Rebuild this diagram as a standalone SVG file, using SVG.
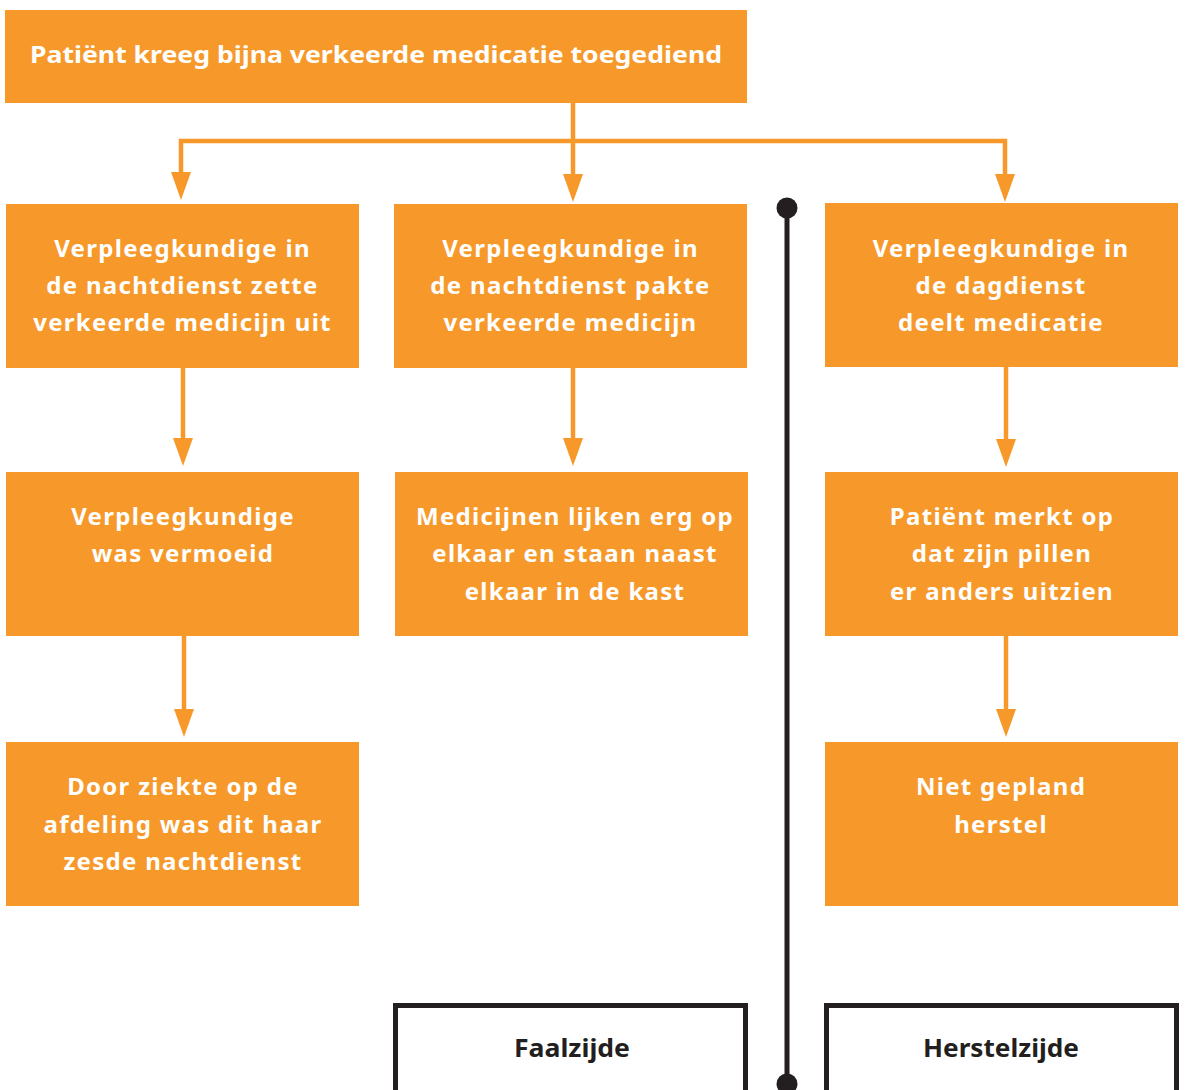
<svg xmlns="http://www.w3.org/2000/svg" width="1186" height="1090" viewBox="0 0 1186 1090">
<defs>
<style>
.box{fill:#F7992A}
.t{font-family:"Noto Sans","Open Sans",sans-serif;font-weight:bold;font-size:24px;fill:#FFFFFF;text-anchor:middle;letter-spacing:1.3px}
.tt{font-family:"Noto Sans","Open Sans",sans-serif;font-weight:bold;font-size:24px;fill:#FFFFFF;text-anchor:middle}
.c{fill:none;stroke:#F7992A;stroke-width:4.5}
.ah{fill:#F7992A}
.side{fill:#FFFFFF;stroke:#231F20;stroke-width:5}
.st{font-family:"Noto Sans","Open Sans",sans-serif;font-weight:bold;font-size:25px;fill:#231F20;text-anchor:middle}
</style>
</defs>
<rect width="1186" height="1090" fill="#FFFFFF"/>
<g id="connectors">
<path class="c" d="M573,103 V174"/>
<path class="c" d="M181,174 V141 H1005 V174"/>
<path class="ah" d="M171,172 L191,172 L181,200 Z"/>
<path class="ah" d="M995,174 L1015,174 L1005,202 Z"/>
<path class="ah" d="M563,174 L583,174 L573,202 Z"/>
<path class="c" d="M183,368 V440"/>
<path class="ah" d="M173,438 L193,438 L183,466 Z"/>
<path class="c" d="M573,368 V440"/>
<path class="ah" d="M563,438 L583,438 L573,466 Z"/>
<path class="c" d="M1006,367 V441"/>
<path class="ah" d="M996,439 L1016,439 L1006,467 Z"/>
<path class="c" d="M184,636 V711"/>
<path class="ah" d="M174,709 L194,709 L184,737 Z"/>
<path class="c" d="M1006,636 V711"/>
<path class="ah" d="M996,709 L1016,709 L1006,737 Z"/>
<path d="M787,208 V1083" stroke="#231F20" stroke-width="5" fill="none"/>
<circle cx="787" cy="208" r="10.5" fill="#231F20"/>
<circle cx="787" cy="1084" r="10.5" fill="#231F20"/>
</g>
<g id="top">
<rect class="box" x="5" y="10" width="742" height="93"/>
<text class="tt" x="376" y="63" textLength="692" lengthAdjust="spacingAndGlyphs">Patiënt kreeg bijna verkeerde medicatie toegediend</text>
</g>
<g id="n1">
<rect class="box" x="6" y="204" width="353" height="164"/>
<text class="t" x="182.5" y="257">Verpleegkundige in</text>
<text class="t" x="182.5" y="294">de nachtdienst zette</text>
<text class="t" x="182.5" y="331">verkeerde medicijn uit</text>
</g>
<g id="n2">
<rect class="box" x="394" y="204" width="353" height="164"/>
<text class="t" x="570.5" y="257">Verpleegkundige in</text>
<text class="t" x="570.5" y="294">de nachtdienst pakte</text>
<text class="t" x="570.5" y="331">verkeerde medicijn</text>
</g>
<g id="n3">
<rect class="box" x="825" y="203" width="353" height="164"/>
<text class="t" x="1001" y="257">Verpleegkundige in</text>
<text class="t" x="1001" y="294">de dagdienst</text>
<text class="t" x="1001" y="331">deelt medicatie</text>
</g>
<g id="n4">
<rect class="box" x="6" y="472" width="353" height="164"/>
<text class="t" x="183" y="525">Verpleegkundige</text>
<text class="t" x="183" y="562">was vermoeid</text>
</g>
<g id="n5">
<rect class="box" x="395" y="472" width="353" height="164"/>
<text class="t" x="575" y="525">Medicijnen lijken erg op</text>
<text class="t" x="575" y="562">elkaar en staan naast</text>
<text class="t" x="575" y="600">elkaar in de kast</text>
</g>
<g id="n6">
<rect class="box" x="825" y="472" width="353" height="164"/>
<text class="t" x="1002" y="525">Patiënt merkt op</text>
<text class="t" x="1002" y="562">dat zijn pillen</text>
<text class="t" x="1002" y="600">er anders uitzien</text>
</g>
<g id="n7">
<rect class="box" x="6" y="742" width="353" height="164"/>
<text class="t" x="183" y="795">Door ziekte op de</text>
<text class="t" x="183" y="833">afdeling was dit haar</text>
<text class="t" x="183" y="870">zesde nachtdienst</text>
</g>
<g id="n8">
<rect class="box" x="825" y="742" width="353" height="164"/>
<text class="t" x="1001" y="795">Niet gepland</text>
<text class="t" x="1001" y="833">herstel</text>
</g>
<g id="faalzijde">
<rect class="side" x="395.5" y="1005.5" width="350" height="100"/>
<text class="st" x="572" y="1057" textLength="116" lengthAdjust="spacingAndGlyphs">Faalzijde</text>
</g>
<g id="herstelzijde">
<rect class="side" x="826.5" y="1005.5" width="350" height="100"/>
<text class="st" x="1001" y="1057" textLength="156" lengthAdjust="spacingAndGlyphs">Herstelzijde</text>
</g>
</svg>
